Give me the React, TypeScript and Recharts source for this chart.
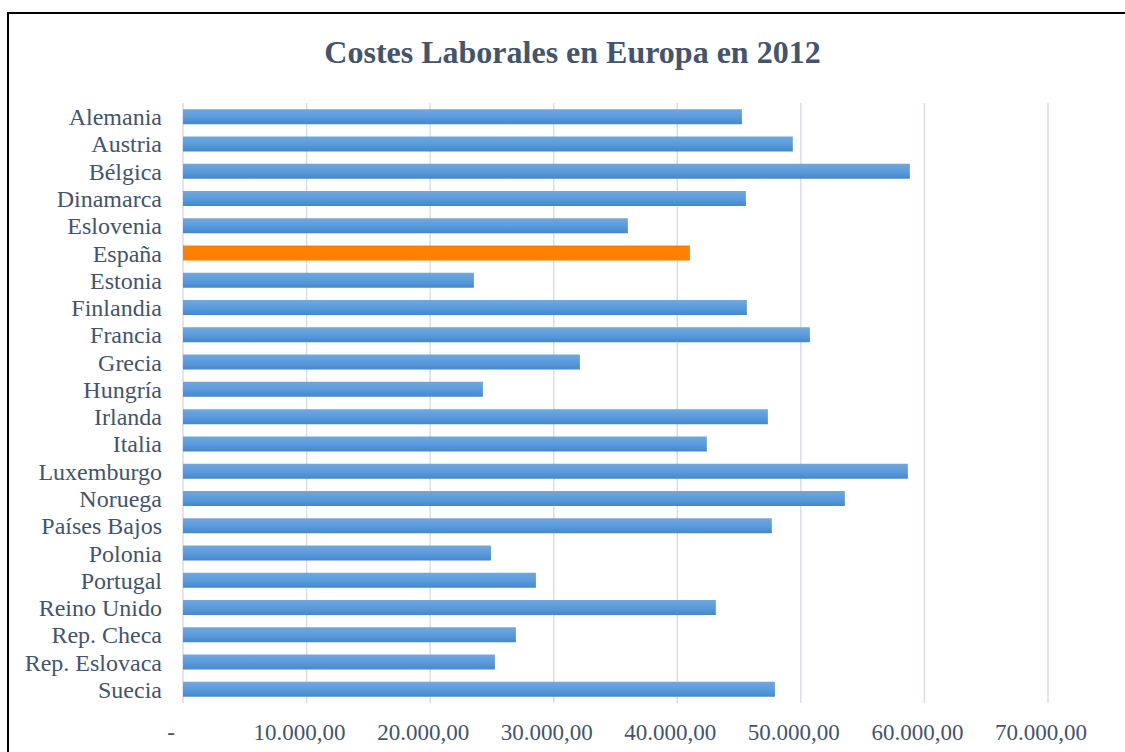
import React from 'react';
import { BarChart, Bar, XAxis, YAxis, CartesianGrid, Cell } from 'recharts';

const countries = [
  'Alemania', 'Austria', 'Bélgica', 'Dinamarca', 'Eslovenia', 'España', 'Estonia',
  'Finlandia', 'Francia', 'Grecia', 'Hungría', 'Irlanda', 'Italia', 'Luxemburgo',
  'Noruega', 'Países Bajos', 'Polonia', 'Portugal', 'Reino Unido', 'Rep. Checa',
  'Rep. Eslovaca', 'Suecia',
];

const costs = [
  45230, 49350, 58820, 45550, 36000, 41020, 23540,
  45630, 50730, 32120, 24270, 47330, 42390, 58660,
  53560, 47650, 24920, 28560, 43120, 26940,
  25240, 47900,
];

const xTicks = [0, 10000, 20000, 30000, 40000, 50000, 60000, 70000];

const highlight = 'España';

const data = countries.map((name, i) => ({ name, value: costs[i] }));

const SERIF = "'Liberation Serif', 'Times New Roman', serif";
const TEXT = '#44546A';

// 10000 -> "10.000,00", 0 -> "-"
const fmt = (v: number) => {
  if (v === 0) return '-';
  const int = Math.floor(v).toString().replace(/\B(?=(\d{3})+(?!\d))/g, '.');
  return `${int},00`;
};

const XTick = (props: any) => {
  const { x, y, payload } = props;
  const shift = payload.value === 0 ? -12 : -7;
  return (
    <text x={x + shift} y={y} dy="0.71em" textAnchor="middle" fill={TEXT}
      style={{ fontFamily: SERIF, fontSize: 23 }}>
      {fmt(payload.value)}
    </text>
  );
};

const YTick = (props: any) => {
  const { x, y, payload } = props;
  return (
    <text x={x} y={y} dy="0.355em" textAnchor="end" fill={TEXT}
      style={{ fontFamily: SERIF, fontSize: 24 }}>
      {payload.value}
    </text>
  );
};

export default function App() {
  return (
    <div style={{ position: 'absolute', left: 0, top: 0, width: 1125, height: 752, overflow: 'hidden', background: '#fff', fontFamily: SERIF }}>
      <div style={{ position: 'absolute', left: 7, top: 12, width: 1300, height: 900, border: '2px solid #000' }} />
      <div
        style={{
          position: 'absolute', left: 0, top: 32, width: 1145, textAlign: 'center',
          fontFamily: SERIF, fontWeight: 'bold', fontSize: 32, color: TEXT, lineHeight: '40px',
        }}
      >
        Costes Laborales en Europa en 2012
      </div>
      <div style={{ position: 'absolute', left: 0, top: 0 }}>
        <BarChart
          width={1125}
          height={752}
          data={data}
          layout="vertical"
          margin={{ top: 103, right: 77, bottom: 0, left: 0 }}
          barCategoryGap="22.5%"
        >
          <CartesianGrid horizontal={false} stroke="#d9dde5" strokeWidth={1.5} />
          <XAxis
            type="number"
            domain={[0, 70000]}
            ticks={xTicks}
            axisLine={false}
            tickLine={false}
            tickSize={0}
            tickMargin={21}
            height={49}
            tick={<XTick />}
          />
          <YAxis
            type="category"
            dataKey="name"
            width={183}
            axisLine={false}
            tickLine={false}
            tickSize={0}
            tickMargin={21}
            interval={0}
            tick={<YTick />}
          />
          <defs>
            <linearGradient id="barBlue" x1="0" y1="0" x2="0" y2="1">
              <stop offset="0%" stopColor="#71a7dd" />
              <stop offset="50%" stopColor="#5a9cde" />
              <stop offset="100%" stopColor="#4587c8" />
            </linearGradient>
          </defs>
          <Bar dataKey="value" isAnimationActive={false}>
            {data.map((d, i) => (
              <Cell key={`c-${i}`} fill={d.name === highlight ? '#ff8000' : 'url(#barBlue)'} />
            ))}
          </Bar>
        </BarChart>
      </div>
    </div>
  );
}
